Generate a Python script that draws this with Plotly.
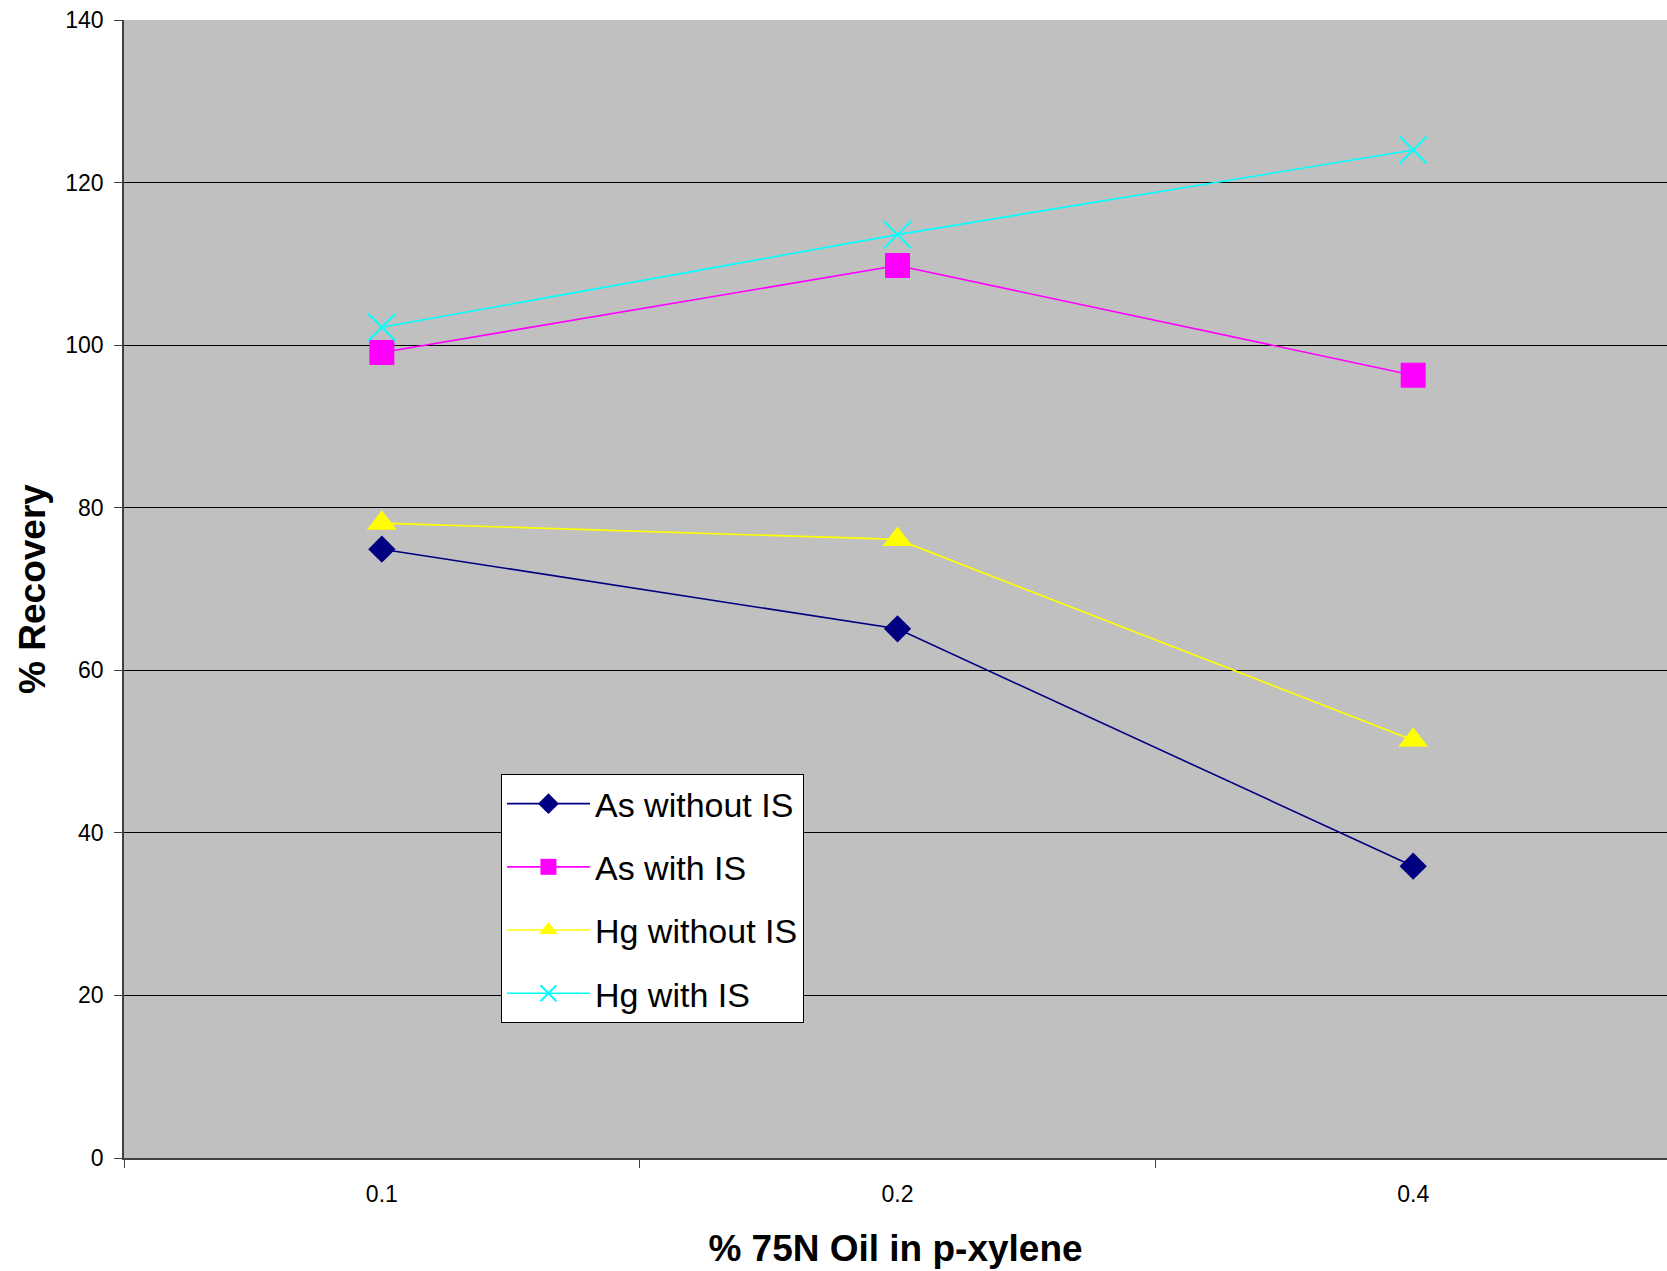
import plotly.graph_objects as go

categories = ["0.1", "0.2", "0.4"]
as_without_is = [74.9, 65.1, 35.9]
as_with_is = [99.1, 109.8, 96.3]
hg_without_is = [78.1, 76.1, 51.4]
hg_with_is = [102.2, 113.6, 124.0]

FONT = "Liberation Sans, Arial, sans-serif"

series = [
    ("As without IS", as_without_is, "#000080", dict(symbol="diamond", size=21)),
    ("As with IS", as_with_is, "#FF00FF", dict(symbol="square", size=25)),
    ("Hg without IS", hg_without_is, "#FFFF00", dict(symbol="triangle-up", size=26)),
    ("Hg with IS", hg_with_is, "#00FFFF", dict(symbol="x-thin-open", size=27, line=dict(width=2, color="#00FFFF"))),
]

fig = go.Figure()
for name, vals, color, mk in series:
    m = dict(color=color, **mk)
    fig.add_trace(go.Scatter(
        x=categories, y=vals, name=name, mode="lines+markers",
        line=dict(color=color, width=1.6), marker=m, legendgroup=name,
    ))

fig.update_layout(
    width=1667, height=1271,
    margin=dict(l=124, r=0, t=20, b=113),
    paper_bgcolor="white",
    plot_bgcolor="#C0C0C0",
    font=dict(family=FONT, color="black"),
    showlegend=True,
    legend=dict(
        x=0.2443, y=0.3374, xanchor="left", yanchor="top",
        bgcolor="white", bordercolor="black", borderwidth=1,
        font=dict(size=34, family=FONT, color="black"),
        traceorder="grouped", tracegroupgap=16,
        itemsizing="trace", itemwidth=83,
        entrywidth=220, entrywidthmode="pixels",
    ),
    xaxis=dict(
        type="category", range=[-0.5, 2.4922],
        tickson="boundaries", ticks="outside", ticklen=8, tickcolor="#404040",
        showgrid=False, showline=True, linecolor="#404040", linewidth=2,
        tickfont=dict(size=23, family=FONT), ticklabelstandoff=14,
        title=dict(text="<b>% 75N Oil in p-xylene</b>", font=dict(size=37, family=FONT), standoff=30),
        zeroline=False,
    ),
    yaxis=dict(
        range=[0, 140], dtick=20, tick0=0,
        ticks="outside", ticklen=8, tickcolor="#404040",
        showgrid=True, gridcolor="black", gridwidth=1,
        showline=True, linecolor="#404040", linewidth=1.5,
        tickfont=dict(size=23, family=FONT), ticklabelstandoff=6,
        title=dict(text="<b>% Recovery</b>", font=dict(size=37, family=FONT), standoff=8),
        zeroline=False,
    ),
)

fig.write_html("out.html")
